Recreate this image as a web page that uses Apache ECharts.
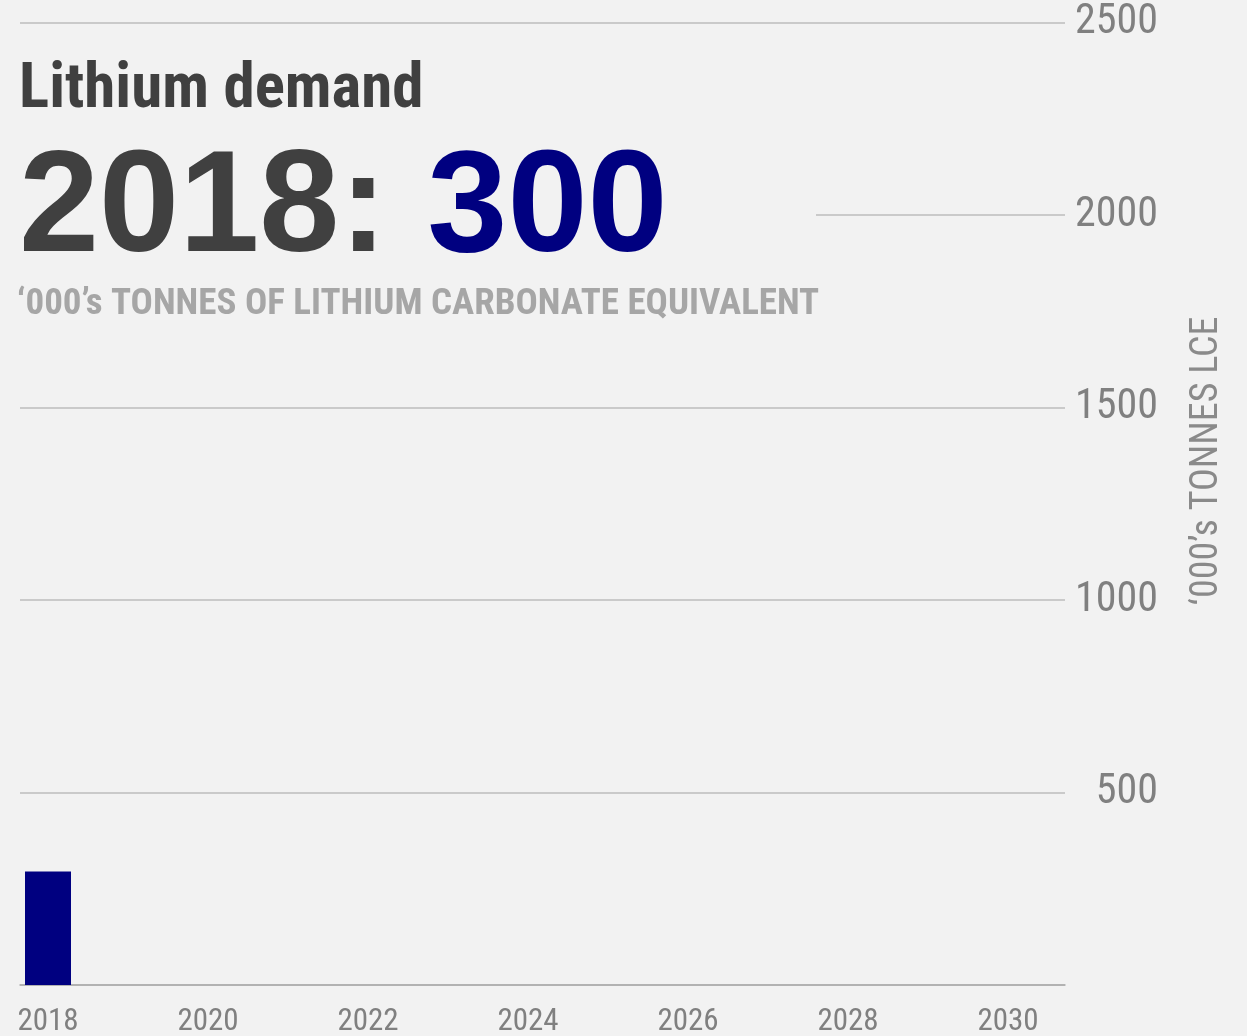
<!DOCTYPE html>
<html>
<head>
<meta charset="utf-8">
<script src="https://cdn.jsdelivr.net/npm/echarts@6/dist/echarts.min.js"></script>
<style>
html,body{margin:0;padding:0;background:#f2f2f2;}
#chart{width:1247px;height:1036px;}
</style>
</head>
<body>
<div id="chart"></div>
<script>
// Data
const years = [2018];
const demand = [295];
const xTickLabels = [2018, 2020, 2022, 2024, 2026, 2028, 2030];
const yTicks = [0, 500, 1000, 1500, 2000, 2500];
const titleText = 'Lithium demand';
const headlineYear = '2018';
const headlineValue = '300';
const subtitleText = '\u2018000\u2019s TONNES OF LITHIUM CARBONATE EQUIVALENT';
const yAxisName = '\u2018000\u2019s TONNES LCE';

const NARROW = '"Roboto Condensed", "Liberation Sans", sans-serif';
const SANS = '"Liberation Sans", Arial, sans-serif';

const chart = echarts.init(document.getElementById('chart'), null, {renderer: 'canvas'});
chart.setOption({
  backgroundColor: '#f2f2f2',
  animation: false,
  grid: {left: 20, right: 182, top: 22.5, bottom: 51, containLabel: false, outerBoundsMode: 'none'},
  xAxis: {
    type: 'value',
    min: 2017.65,
    max: 2030.7125,
    splitLine: {show: false},
    axisTick: {show: false},
    axisLine: {show: true, lineStyle: {color: '#aaaaaa', width: 1.5}},
    axisLabel: {
      customValues: xTickLabels,
      color: '#808080',
      fontFamily: NARROW,
      fontSize: 31,
      margin: 22,
      formatter: v => String(v)
    }
  },
  yAxis: {
    type: 'value',
    position: 'right',
    min: yTicks[0],
    max: yTicks[yTicks.length - 1],
    interval: 500,
    axisLine: {show: false},
    axisTick: {show: false},
    splitLine: {lineStyle: {color: '#bdbdbd', width: 1.5}},
    axisLabel: {
      color: '#808080',
      fontFamily: NARROW,
      fontSize: 42,
      align: 'right',
      verticalAlign: 'middle',
      padding: [18, 0, 0, 0],
      margin: 93,
      formatter: v => v === 0 ? '' : String(v)
    }
  },
  title: [
    {
      text: titleText,
      left: 19, top: 60,
      padding: 0,
      textStyle: {fontFamily: NARROW, fontWeight: 'bold', fontSize: 63, color: '#404040'}
    },
    {
      text: headlineYear + ': {v|' + headlineValue + '}',
      left: 19, top: 139,
      padding: 0,
      textStyle: {
        fontFamily: SANS, fontWeight: 'bold', fontSize: 144, color: '#404040',
        rich: {v: {fontFamily: SANS, fontWeight: 'bold', fontSize: 144, color: '#000080'}}
      }
    },
    {
      text: subtitleText,
      left: 17, top: 286,
      padding: 0,
      textStyle: {fontFamily: NARROW, fontWeight: 'bold', fontSize: 37, color: '#a6a6a6'}
    }
  ],
  graphic: [
    {type: 'rect', left: 0, top: 45, shape: {width: 816, height: 285}, style: {fill: '#f2f2f2'}, z: 1, silent: true},
    {
      type: 'text', x: 1207, y: 461, rotation: Math.PI / 2,
      style: {text: yAxisName, fill: '#8a8a8a', font: '38px ' + NARROW, align: 'center', verticalAlign: 'middle'},
      z: 5
    }
  ],
  series: [{
    type: 'bar',
    data: years.map((y, i) => [y, demand[i]]),
    barWidth: 46,
    itemStyle: {color: '#000080'}
  }]
});
</script>
</body>
</html>
